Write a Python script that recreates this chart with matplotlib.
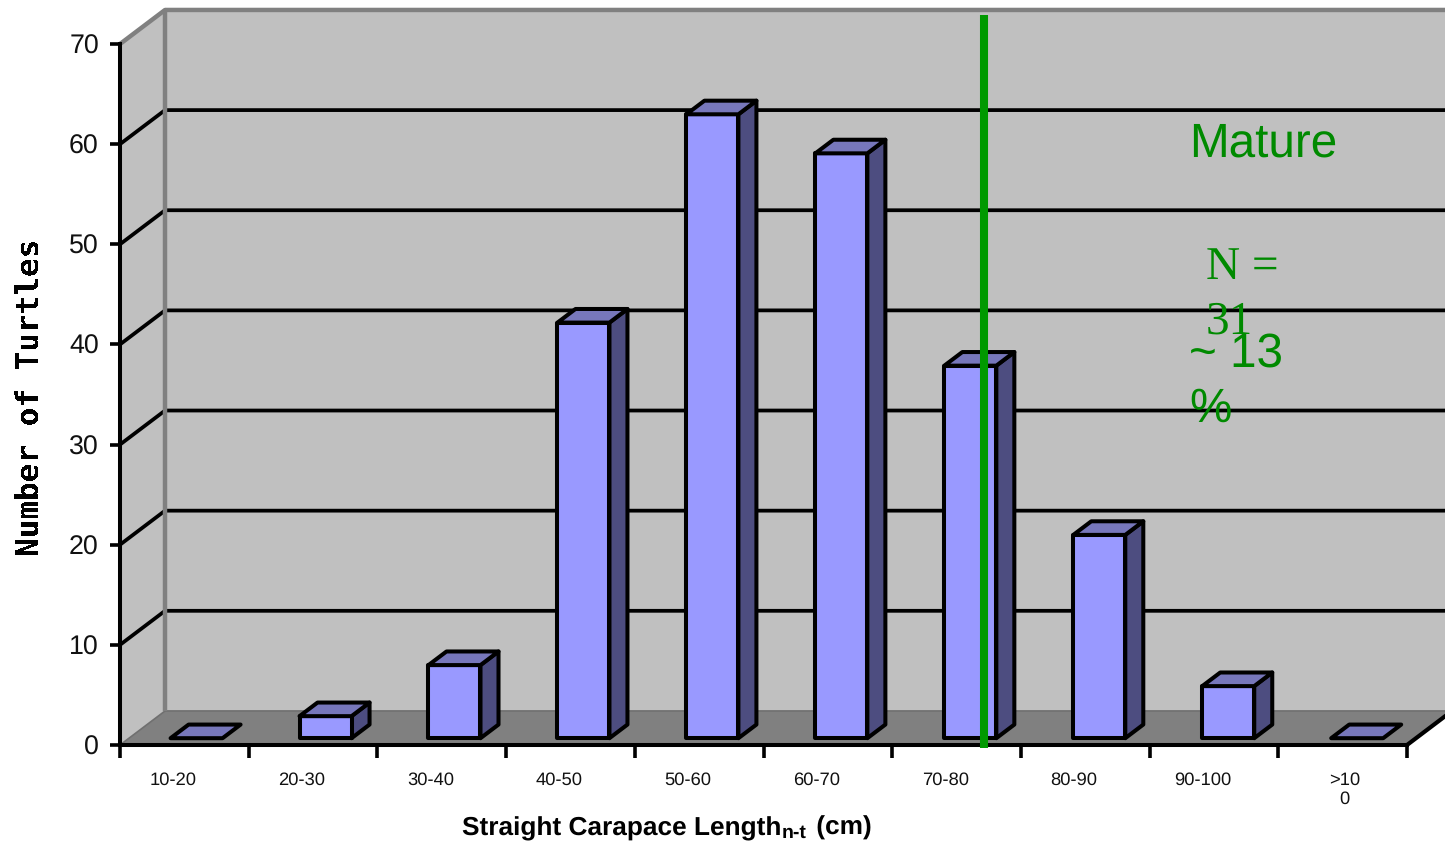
# -*- coding: utf-8 -*-
import matplotlib
matplotlib.use("Agg")
import matplotlib.pyplot as plt
from matplotlib.patches import Polygon

W, H = 1445, 843

categories = ["10-20", "20-30", "30-40", "40-50", "50-60", "60-70",
              "70-80", "80-90", "90-100", ">10\n0"]
turtles = [0, 2.2, 7.3, 41.5, 62.3, 58.4, 37.2, 20.3, 5.2, 0]
y_ticks = [0, 10, 20, 30, 40, 50, 60, 70]
mature_at = 6.713

# depth of the fake 3d box, in data units
DX = 0.35
DY = 3.4

plt.rcParams["font.family"] = ["Liberation Sans", "DejaVu Sans"]
plt.rcParams["text.hinting"] = "no_hinting"

fig = plt.figure(figsize=(W / 100, H / 100), dpi=100)
ax = fig.add_axes([120 / W, (H - 745) / H, (1407 - 120) / W, (745 - 44) / H])
ax.set_xlim(0, 10)
ax.set_ylim(0, 70)
ax.patch.set_visible(False)


def proj(x, y, z):
    return (x + z * DX, y + z * DY)


def poly(pts, color, edge="none", lw=0.0, zorder=1.0):
    ax.add_patch(Polygon(pts, closed=True, facecolor=color, edgecolor=edge, linewidth=lw,
                         joinstyle="round", clip_on=False, zorder=zorder))


def line(pts, color, lw, zorder):
    ax.plot([p[0] for p in pts], [p[1] for p in pts], color=color, lw=lw,
            clip_on=False, zorder=zorder, solid_capstyle="butt")


# walls and floor
poly([proj(0, 0, 1), proj(10, 0, 1), proj(10, 70, 1), proj(0, 70, 1)], "#c0c0c0", zorder=0.5)
poly([proj(0, 0, 0), proj(0, 0, 1), proj(0, 70, 1), proj(0, 70, 0)], "#c0c0c0", zorder=0.5)
poly([proj(0, 0, 0), proj(10, 0, 0), proj(10, 0, 1), proj(0, 0, 1)], "#808080", zorder=0.6)

# grid lines, back wall and left wall
for v in y_ticks[1:-1]:
    line([proj(0, v, 0), proj(0, v, 1), proj(10, v, 1)], "black", 2.7, 1.0)

# grey edges of the box
line([proj(0, 0, 0), proj(0, 0, 1), proj(10, 0, 1)], "#707070", 1.2, 1.1)
line([proj(0, 70, 0), proj(0, 70, 1), proj(10, 70, 1)], "#808080", 3.2, 1.1)
line([proj(0, 0, 1), proj(0, 70, 1)], "#808080", 3.2, 1.2)
line([proj(10, 0, 0), proj(10, 0, 1)], "black", 3.0, 1.2)

# bars
bar_w = 0.404
for i, v in enumerate(turtles):
    x0 = i * 1.002 + 0.323
    x1 = x0 + bar_w
    z0, z1 = 0.2, 0.6
    zo = 3 + i * 0.01
    if v > 0:
        poly([proj(x1, 0, z0), proj(x1, 0, z1), proj(x1, v, z1), proj(x1, v, z0)],
             "#4d4d80", "black", 2.9, zo)
        poly([proj(x0, 0, z0), proj(x1, 0, z0), proj(x1, v, z0), proj(x0, v, z0)],
             "#9999ff", "black", 2.9, zo)
    poly([proj(x0, v, z0), proj(x1, v, z0), proj(x1, v, z1), proj(x0, v, z1)],
         "#7777bb", "black", 2.9, zo)

# maturity line
ax.plot([mature_at, mature_at], [-0.3, 72.9], color="#009900", lw=5.8, clip_on=False,
        zorder=6, solid_capstyle="butt")

# axes
for s in ["top", "right"]:
    ax.spines[s].set_visible(False)
for s in ["left", "bottom"]:
    ax.spines[s].set_linewidth(2.9)
    ax.spines[s].set_zorder(2.5)
ax.set_yticks(y_ticks)
ax.set_yticklabels([str(v) for v in y_ticks], fontsize=19.3, color="#111111")
ax.tick_params(axis="y", length=7.2, width=2.6, pad=8)
ax.set_xticks(range(11))
ax.set_xticklabels([])
ax.tick_params(axis="x", which="major", length=9, width=2.6)
label_pos = [i + 0.412 for i in range(9)] + [9.515]
ax.set_xticks(label_pos, minor=True)
ax.set_xticklabels(categories, minor=True, fontsize=13.2, color="#111111", va="top")
ax.tick_params(axis="x", which="minor", length=0, pad=19)


def ptext(x, y, s, **kw):
    fig.text(x / W, (H - y) / H, s, va="baseline", ha="left", **kw)


green = "#008a00"
ptext(1189, 157, "Mature", color=green, fontsize=34.3, zorder=7)
ptext(1206, 279, "N =", color=green, fontsize=34, family="Liberation Serif", zorder=7)
ptext(1206, 334, "31", color=green, fontsize=34, family="Liberation Serif", zorder=7)
ptext(1189, 367, "~ 13", color=green, fontsize=34.3, zorder=7)
ptext(1189, 422, "%", color=green, fontsize=34.3, zorder=7)

# x axis title with subscript, pieces chained after each other
t1 = fig.text(462 / W, (H - 835) / H, "Straight Carapace Length", fontsize=18.9,
              fontweight="bold", va="baseline", ha="left")
plt.annotate("n-t", xy=(1, 0), xycoords=t1, xytext=(0.5, 1.8), textcoords="offset points",
             fontsize=14, fontweight="bold", va="baseline", ha="left",
             annotation_clip=False)
plt.annotate(" (cm)", xy=(1, 0), xycoords=t1, xytext=(19.5, 4), textcoords="offset points",
             fontsize=18.9, fontweight="bold", va="baseline", ha="left", annotation_clip=False)

# y axis title, rendered without smoothing like the blocky original
fig.text(30 / W, (H - 397) / H, "Number of Turtles", rotation=90, fontsize=22.3, fontweight="bold",
         family="DejaVu Sans Mono", va="center", ha="center", antialiased=False)

fig.savefig("out.png", dpi=100)
